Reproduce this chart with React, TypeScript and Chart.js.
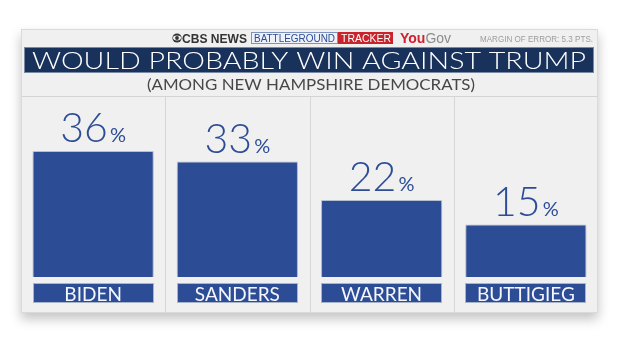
import React, { useEffect, useRef } from "react";
import { Chart, registerables } from "chart.js";

Chart.register(...registerables);

const categories = ["BIDEN", "SANDERS", "WARREN", "BUTTIGIEG"];
const values = [36, 33, 22, 15];
const yMax = 40;
const titleText = "WOULD PROBABLY WIN AGAINST TRUMP";
const subtitleText = "(AMONG NEW HAMPSHIRE DEMOCRATS)";
const marginText = "MARGIN OF ERROR: 5.3 PTS.";
const brandNews = "CBS NEWS";
const brandBattle = "BATTLEGROUND";
const brandTracker = "TRACKER";

const W = 620;
const H = 349;
const BLUE = "#2c4d96";
const NAVY = "#19325c";
const CARD = { l: 21, t: 29, r: 598, b: 313 };
const FONT = "Lato, 'Open Sans', sans-serif";
const NARROW = "'Liberation Sans Narrow', 'Arial Narrow', Arial, sans-serif";

function fitText(ctx: CanvasRenderingContext2D, text: string, left: number, baseline: number, width: number, font: string, color: string) {
  ctx.save();
  ctx.font = font;
  ctx.fillStyle = color;
  ctx.textAlign = "left";
  ctx.textBaseline = "alphabetic";
  const w = ctx.measureText(text).width;
  ctx.translate(left, baseline);
  ctx.scale(width / w, 1);
  ctx.fillText(text, 0, 0);
  ctx.restore();
}

function hline(ctx: CanvasRenderingContext2D, x1: number, x2: number, y: number, color: string) {
  ctx.strokeStyle = color;
  ctx.lineWidth = 1;
  ctx.beginPath();
  ctx.moveTo(x1, y + 0.5);
  ctx.lineTo(x2, y + 0.5);
  ctx.stroke();
}

const chromePlugin = {
  id: "chrome",
  beforeDraw(chart: any) {
    const ctx: CanvasRenderingContext2D = chart.ctx;
    const xs = chart.scales.x;
    ctx.save();
    ctx.fillStyle = "#ffffff";
    ctx.fillRect(0, 0, W, H);

    // card with shadow
    ctx.shadowColor = "rgba(0,0,0,0.24)";
    ctx.shadowBlur = 11;
    ctx.shadowOffsetY = 6;
    ctx.fillStyle = "#f0f0f0";
    ctx.fillRect(CARD.l, CARD.t, CARD.r - CARD.l, CARD.b - CARD.t);
    ctx.shadowColor = "transparent";
    ctx.shadowBlur = 0;
    ctx.shadowOffsetY = 0;
    ctx.strokeStyle = "#dadada";
    ctx.lineWidth = 1;
    ctx.strokeRect(CARD.l + 0.5, CARD.t + 0.5, CARD.r - CARD.l - 1, CARD.b - CARD.t - 1);

    // header: CBS eye
    ctx.fillStyle = "#333";
    ctx.beginPath();
    ctx.arc(177, 38, 4.6, 0, Math.PI * 2);
    ctx.fill();
    ctx.fillStyle = "#f0f0f0";
    ctx.beginPath();
    ctx.ellipse(177, 38, 4, 2.4, 0, 0, Math.PI * 2);
    ctx.fill();
    ctx.fillStyle = "#333";
    ctx.beginPath();
    ctx.arc(177, 38, 1.9, 0, Math.PI * 2);
    ctx.fill();
    fitText(ctx, brandNews, 182, 42.5, 65, `bold 12.5px ${NARROW}`, "#333");

    // battleground tracker box
    ctx.fillStyle = "#eef2f8";
    ctx.fillRect(251, 32, 87, 12);
    ctx.strokeStyle = "#7d93bd";
    ctx.strokeRect(251.5, 32.5, 86, 11);
    fitText(ctx, brandBattle, 254, 42, 81, `10px Arial, sans-serif`, BLUE);
    ctx.fillStyle = "#c8242b";
    ctx.fillRect(338, 32, 55, 12);
    fitText(ctx, brandTracker, 341, 42, 50, `10px Arial, sans-serif`, "#ffffff");

    // YouGov
    ctx.textAlign = "left";
    ctx.textBaseline = "alphabetic";
    ctx.font = "bold 14px Arial, sans-serif";
    ctx.fillStyle = "#d1202f";
    ctx.fillText("You", 400, 43);
    const w1 = ctx.measureText("You").width;
    ctx.font = "14px Arial, sans-serif";
    ctx.fillStyle = "#8c8c8c";
    ctx.fillText("Gov", 400 + w1, 43);

    // margin of error
    fitText(ctx, marginText, 480, 42, 113, `9px ${NARROW}`, "#9c9c9c");

    // title bar
    ctx.fillStyle = NAVY;
    ctx.fillRect(24, 47, 570, 26);
    ctx.strokeStyle = "#7b8aa3";
    ctx.strokeRect(24.5, 47.5, 569, 25);
    fitText(ctx, titleText, 32, 68.5, 554, `300 24px ${FONT}`, "#ffffff");

    // subtitle
    fitText(ctx, subtitleText, 147, 90, 328, `16px ${FONT}`, "#474747");

    // separator & column dividers
    hline(ctx, CARD.l + 1, CARD.r - 1, 96, "#d4d4d4");
    ctx.strokeStyle = "#d6d6d6";
    for (let i = 0; i < categories.length - 1; i++) {
      const xb = Math.round((xs.getPixelForValue(i) + xs.getPixelForValue(i + 1)) / 2) + 0.5;
      ctx.beginPath();
      ctx.moveTo(xb, 97);
      ctx.lineTo(xb, CARD.b - 1);
      ctx.stroke();
    }

    // category label boxes
    const meta = chart.getDatasetMeta(0);
    meta.data.forEach((el: any, i: number) => {
      const left = Math.round(el.x - el.width / 2);
      const wd = Math.round(el.width);
      ctx.fillStyle = BLUE;
      ctx.fillRect(left, 283, wd, 20);
      ctx.strokeStyle = "#aab4c8";
      ctx.strokeRect(left + 0.5, 283.5, wd - 1, 19);
      ctx.font = `19px ${FONT}`;
      ctx.fillStyle = "#f4f6fb";
      ctx.textAlign = "center";
      ctx.textBaseline = "alphabetic";
      ctx.fillText(categories[i], el.x, 300.5);
    });
    ctx.restore();
  },
  beforeDatasetsDraw(chart: any) {
    const ctx: CanvasRenderingContext2D = chart.ctx;
    ctx.save();
    ctx.shadowColor = "rgba(0,0,0,0.25)";
    ctx.shadowBlur = 5;
    ctx.shadowOffsetY = 2;
  },
  afterDatasetsDraw(chart: any) {
    const ctx: CanvasRenderingContext2D = chart.ctx;
    ctx.restore();
    ctx.save();
    const meta = chart.getDatasetMeta(0);
    meta.data.forEach((el: any, i: number) => {
      const num = String(values[i]);
      const numFont = `300 41px ${FONT}`;
      const pctFont = `20px ${FONT}`;
      ctx.font = numFont;
      const wn = ctx.measureText(num).width;
      ctx.font = pctFont;
      const wp = ctx.measureText("%").width;
      const gap = 2;
      const total = wn + gap + wp;
      const left = el.x - total / 2;
      const base = el.y - 9;
      ctx.textAlign = "left";
      ctx.textBaseline = "alphabetic";
      ctx.fillStyle = BLUE;
      ctx.font = numFont;
      ctx.fillText(num, left, base);
      ctx.font = pctFont;
      ctx.fillText("%", left + wn + gap, base);
    });
    ctx.restore();
  },
};

export default function App() {
  const ref = useRef<HTMLCanvasElement | null>(null);
  useEffect(() => {
    document.body.style.margin = "0";
    const canvas = ref.current;
    if (!canvas) return;
    const chart = new Chart(canvas, {
      type: "bar",
      data: {
        labels: categories,
        datasets: [
          {
            data: values,
            backgroundColor: BLUE,
            borderColor: "rgba(185,196,218,0.9)",
            borderWidth: 1,
            barPercentage: 0.84,
            categoryPercentage: 1,
          },
        ],
      },
      options: {
        responsive: false,
        animation: false,
        devicePixelRatio: 1,
        layout: { padding: { left: CARD.l, right: W - CARD.r, top: 137, bottom: 72 } },
        plugins: { legend: { display: false }, tooltip: { enabled: false }, title: { display: false } },
        scales: {
          x: { display: false },
          y: { display: false, min: 0, max: yMax },
        },
      },
      plugins: [chromePlugin],
    });
    return () => chart.destroy();
  }, []);
  return <canvas ref={ref} width={W} height={H} style={{ display: "block" }} />;
}
